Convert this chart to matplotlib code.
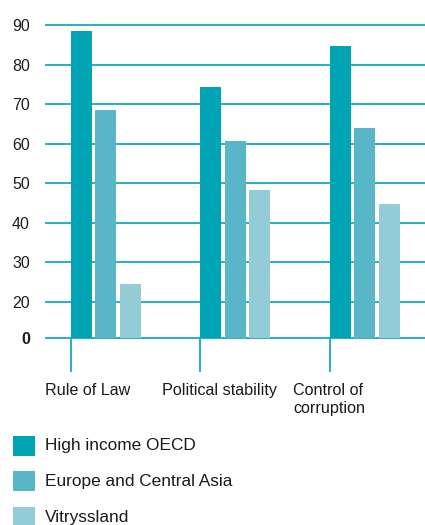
import matplotlib
matplotlib.use('Agg')
import matplotlib.pyplot as plt
from matplotlib.patches import Rectangle
import matplotlib.transforms as mtransforms

# ---- data ----
categories = ['Rule of Law', 'Political stability', 'Control of\ncorruption']
series_names = ['High income OECD', 'Europe and Central Asia', 'Vitryssland']
high_income_oecd = [88.7, 74.4, 84.7]
europe_central_asia = [68.5, 60.7, 64.0]
vitryssland = [24.6, 48.3, 44.8]
ytick_values = [20, 30, 40, 50, 60, 70, 80, 90]
ytick_labels = ['20', '30', '40', '50', '60', '70', '80', '90']

series = [high_income_oecd, europe_central_asia, vitryssland]
colors = ['#00a4b5', '#58b6c6', '#93cbd6']
grid_color = '#22b2c4'

# broken axis: the "0" baseline sits where 11 would be on the linear scale
base = 11

fam = ['Liberation Sans', 'DejaVu Sans']
plt.rcParams['font.family'] = fam

W, H = 425, 525
fig = plt.figure(figsize=(W / 100, H / 100), dpi=100)
ax_left, ax_right, ax_top, ax_bot = 45, 425, 10, 372
ax = fig.add_axes([ax_left / W, 1 - ax_bot / H, (ax_right - ax_left) / W, (ax_bot - ax_top) / H])

ax.set_ylim(2.28, 93.92)
group_px = 129.5
ax.set_xlim((45 - 70.5) / group_px, (425 - 70.5) / group_px)

bar_w = 21 / group_px
bar_step = 24.5 / group_px
for j, vals in enumerate(series):
    xs = [i + j * bar_step for i in range(len(categories))]
    ax.bar(xs, [v - base for v in vals], bottom=base, width=bar_w, align='edge',
           color=colors[j], zorder=3, linewidth=0)

# gridlines
for v in ytick_values + [base]:
    ax.axhline(v, color=grid_color, lw=1.4, zorder=1)

# category tick lines below baseline
ax.vlines(range(len(categories)), 2.28, base, color=grid_color, lw=1.4, zorder=1)

ax.set_yticks([base] + ytick_values)
ax.set_yticklabels(['0'] + ytick_labels)
ax.tick_params(axis='y', length=0, pad=10.8, labelsize=11.5, labelcolor='#1e1e1e')
for lab in ax.get_yticklabels():
    if lab.get_text() == '0':
        lab.set_fontweight('bold')
ax.set_xticks([])
for s in ax.spines.values():
    s.set_visible(False)

# category labels
label_offsets_px = [25.5, 38, 36.5]
trans = mtransforms.blended_transform_factory(ax.transData, fig.transFigure)
for i, (cat, off) in enumerate(zip(categories, label_offsets_px)):
    ax.text(i - off / group_px, 1 - 383 / H, cat, transform=trans,
            ha='left', va='top', fontsize=11.6, color='#1a1a1a', linespacing=1.25)

# legend
row_y = [445.5, 481, 517]
text_base = [450, 486, 522]
for name, c, y, tb in zip(series_names, colors, row_y, text_base):
    fig.add_artist(Rectangle((13 / W, 1 - (y + 10) / H), 22 / W, 20 / H,
                             transform=fig.transFigure, color=c, linewidth=0))
    fig.text(45 / W, 1 - tb / H, name, ha='left', va='baseline', fontsize=12.4,
             color='#1a1a1a')

fig.savefig('out.png', dpi=100)
